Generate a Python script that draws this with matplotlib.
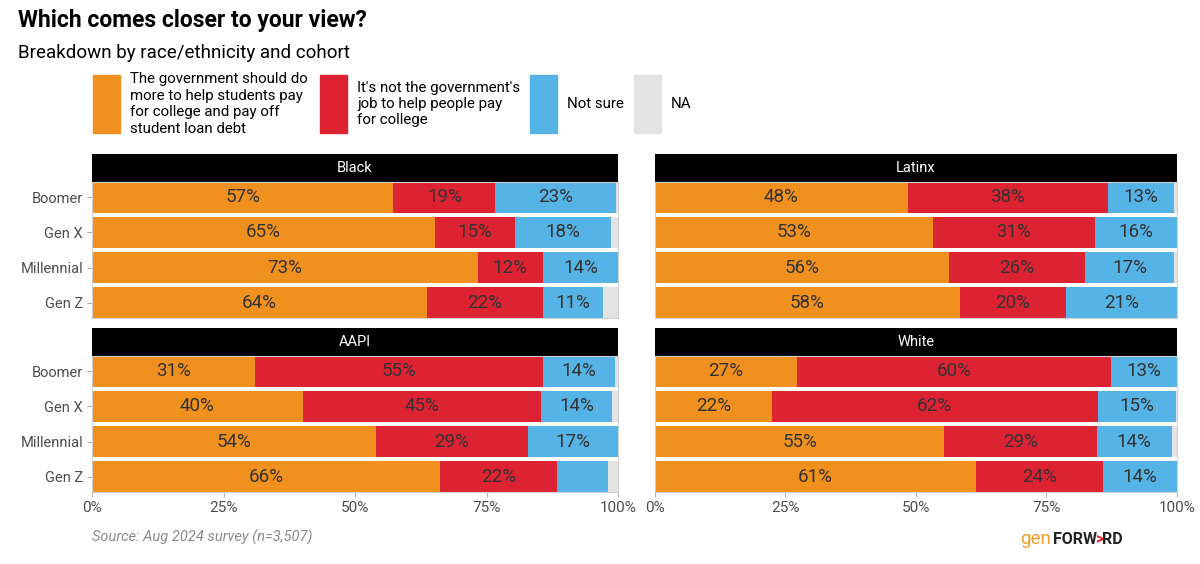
import matplotlib
matplotlib.use("Agg")
import matplotlib.pyplot as plt
from matplotlib.patches import Rectangle

plt.rcParams["font.family"] = ["Roboto", "DejaVu Sans"]

# data (percent)
groups = ["Black", "Latinx", "AAPI", "White"]
cohorts = ["Boomer", "Gen X", "Millennial", "Gen Z"]
responses = [
    "The government should do\nmore to help students pay\nfor college and pay off\nstudent loan debt",
    "It's not the government's\njob to help people pay\nfor college",
    "Not sure",
    "NA",
]
gov_should_help = [
    [57.3, 65.2, 73.3, 63.7],
    [48.4, 53.2, 56.3, 58.4],
    [31.0, 40.1, 54.0, 66.2],
    [27.2, 22.4, 55.4, 61.4],
]
not_gov_job = [
    [19.4, 15.3, 12.4, 22.0],
    [38.4, 31.1, 26.0, 20.3],
    [54.8, 45.2, 28.9, 22.2],
    [60.2, 62.4, 29.2, 24.4],
]
not_sure = [
    [23.0, 18.2, 14.3, 11.4],
    [12.7, 15.7, 17.2, 21.3],
    [13.6, 13.6, 17.1, 9.7],
    [12.6, 15.1, 14.4, 14.2],
]
ticks = [0, 25, 50, 75, 100]
tick_labels = ["0%", "25%", "50%", "75%", "100%"]

colors = ["#F0901E", "#DD2232", "#56B3E6", "#E3E3E3"]
text_grey = "#4D4D4D"
label_color = "#333333"

W, H = 1200, 564
fig = plt.figure(figsize=(W / 100, H / 100), dpi=100)


def box(x0, y0, x1, y1):
    return [x0 / W, 1 - y1 / H, (x1 - x0) / W, (y1 - y0) / H]


cols = [(92, 618), (655, 1177)]
rows = [(154, 182, 318), (328, 356, 492)]

for g, name in enumerate(groups):
    r, c = divmod(g, 2)
    x0, x1 = cols[c]
    s0, b0, b1 = rows[r]

    strip = fig.add_axes(box(x0, s0, x1, b0))
    strip.set_facecolor("black")
    strip.set_xticks([])
    strip.set_yticks([])
    for sp in strip.spines.values():
        sp.set_visible(False)
    strip.text(0.5, 0.5, name, color="white", fontsize=10.5,
               ha="center", va="center", transform=strip.transAxes)

    ax = fig.add_axes(box(x0, b0, x1, b1))
    vals = [gov_should_help[g], not_gov_job[g], not_sure[g]]
    na = [max(0.0, 100 - sum(v[i] for v in vals)) for i in range(len(cohorts))]
    vals.append(na)
    left = [0.0] * len(cohorts)
    for k, series in enumerate(vals):
        ax.barh(range(len(cohorts)), series, left=left, height=0.88,
                color=colors[k], linewidth=0)
        if k < 3:
            for i, v in enumerate(series):
                if v >= 10:
                    ax.text(left[i] + v / 2, i, f"{round(v)}%", ha="center",
                            va="center", fontsize=13.5, color=label_color)
        left = [a + b for a, b in zip(left, series)]

    ax.set_xlim(0, 100)
    ax.set_ylim(len(cohorts) - 0.56, -0.44)
    ax.set_yticks(range(len(cohorts)))
    if c == 0:
        ax.set_yticklabels(cohorts, fontsize=10.5, color=text_grey)
    else:
        ax.set_yticklabels([])
    ax.set_xticks(ticks)
    if r == 1:
        ax.set_xticklabels(tick_labels, fontsize=11, color=text_grey)
    else:
        ax.set_xticklabels([])
    ax.tick_params(axis="both", color="#B3B3B3", length=3.5, width=0.8, pad=3)
    if r == 0:
        ax.tick_params(axis="x", length=0)
    if c == 1:
        ax.tick_params(axis="y", length=0)
    for sp in ax.spines.values():
        sp.set_color("#D0D0D0")
        sp.set_linewidth(0.8)

# title and subtitle
fig.text(18 / W, 1 - 20 / H, "Which comes closer to your view?", fontsize=16.5,
         fontweight="bold", ha="left", va="center", color="black")
fig.text(18 / W, 1 - 53 / H, "Breakdown by race/ethnicity and cohort",
         fontsize=13.5, ha="left", va="center", color="black")

# legend
key_x = [93, 320, 530, 634]
for k, label in enumerate(responses):
    fig.patches.append(Rectangle((key_x[k] / W, 1 - 133 / H), 27 / W, 58 / H,
                                 transform=fig.transFigure, color=colors[k]))
    fig.text((key_x[k] + 37) / W, 1 - 104 / H, label, fontsize=10.8,
             ha="left", va="center", color="black", linespacing=1.22)

# source
fig.text(92 / W, 1 - 537 / H, "Source: Aug 2024 survey (n=3,507)", fontsize=10.5,
         style="italic", color="#8A8A8A", ha="left", va="center")

# logo, pieces placed one after another
renderer = fig.canvas.get_renderer()
x = 1020 / W
pieces = [("gen", "#F0A030", "normal", 13.5, 2), ("FORW", "#222222", "bold", 11.5, -2),
          (">", "#DD2232", "bold", 11.5, -1), ("RD", "#222222", "bold", 11.5, 0)]
for txt, col, weight, size, gap in pieces:
    t = fig.text(x, 1 - 539 / H, txt, fontsize=size, color=col, fontweight=weight,
                 ha="left", va="center")
    bb = t.get_window_extent(renderer)
    x = (bb.x1 + gap) / W

fig.savefig("out.png", dpi=100, facecolor="white")
